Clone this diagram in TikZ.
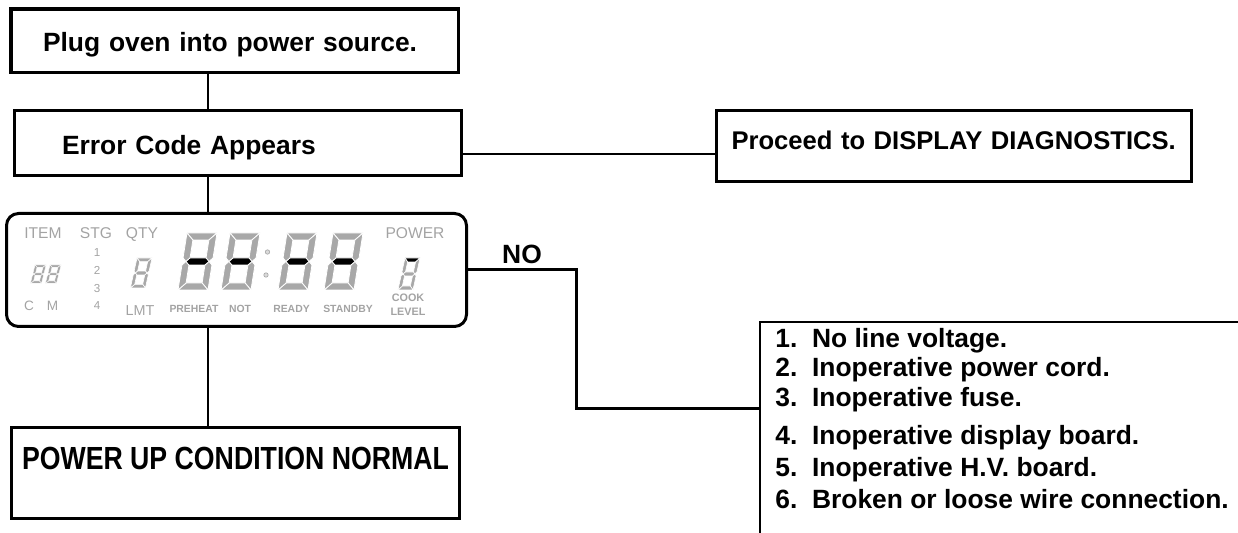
\documentclass[tikz,border=0pt]{standalone}
\usepackage{fontspec}
\setmainfont{Liberation Sans}
\usepackage{graphicx}
\usepackage{tikz}
\definecolor{lcdgray}{HTML}{A3A3A3}
\definecolor{segfill}{HTML}{A8A8A8}

\begin{document}
\begin{tikzpicture}[x=0.5pt, y=-0.5pt,
	box/.style={draw=black, line width=1.6pt, inner ysep=0pt, align=left, font=\fontsize{13.2}{15}\selectfont\bfseries},
	link/.style={line width=1pt},
	noline/.style={line width=1.5pt},
	nolabel/.style={above, inner sep=0pt, yshift=2.6pt, font=\fontsize{13.2}{15}\selectfont\bfseries, text height=9.45pt, text depth=0pt},
	lcd/.style={draw=black, line width=1.5pt, rounded corners=6pt, minimum width=230pt, minimum height=56.5pt, inner sep=0pt},
	lcdlabel/.style={text=lcdgray, inner sep=0pt, font=\fontsize{7.8}{8}\selectfont, text height=5.6pt, text depth=0pt},
	lcdsmall/.style={text=lcdgray, inner sep=0pt, font=\fontsize{5.8}{6}\selectfont, text height=4.2pt, text depth=0pt},
	lcdtag/.style={text=lcdgray, inner sep=0pt, font=\fontsize{5.2}{6}\selectfont\bfseries, text height=3.7pt, text depth=0pt},
	cause/.style={anchor=west, inner sep=0pt, font=\fontsize{13.2}{15}\selectfont\bfseries, text height=9.45pt, text depth=0pt},
	listline/.style={line width=1.3pt},
	seg/.style={fill=segfill, draw=white, line width=0.4pt},
	lit/.style={fill=black, draw=white, line width=0.4pt},
	seg a/.style={seg}, seg b/.style={seg}, seg c/.style={seg}, seg d/.style={seg},
	seg e/.style={seg}, seg f/.style={seg}, seg g/.style={seg},
	lcd digit/.pic={
		\path[seg a] (0,0) -- (30,0) -- (23,7) -- (7,7) -- cycle;
		\path[seg b] (30,0) -- (30,25) -- (26.5,28.5) -- (23,25) -- (23,7) -- cycle;
		\path[seg c] (26.5,28.5) -- (30,32) -- (30,57) -- (23,50) -- (23,32) -- cycle;
		\path[seg d] (0,57) -- (30,57) -- (23,50) -- (7,50) -- cycle;
		\path[seg e] (3.5,28.5) -- (7,32) -- (7,50) -- (0,57) -- (0,32) -- cycle;
		\path[seg f] (0,0) -- (7,7) -- (7,25) -- (3.5,28.5) -- (0,25) -- cycle;
		\path[seg g] (3.5,28.5) -- (7,25) -- (23,25) -- (26.5,28.5) -- (23,32) -- (7,32) -- cycle;
	}]
	\useasboundingbox (0,0) rectangle (1238,533);

	% boxes of the flow
	\node[box, inner xsep=16pt, text width=191.75pt, minimum height=31.7pt, text height=10.45pt, text depth=0pt] (plug) at (234.75,40.7) {Plug oven into power source.};
	\node[box, inner xsep=23.75pt, text width=176pt, minimum height=32.5pt, text height=11.45pt, text depth=0pt] (error) at (238,143) {Error Code Appears};
	\node[box, inner xsep=7.5pt, text width=222.5pt, minimum height=35.5pt, font=\fontsize{12.8}{15}\selectfont\bfseries, text height=9.16pt, text depth=5.8pt] (proceed) at (954,146) {Proceed to DISPLAY DIAGNOSTICS.};
	\node[box, align=center, minimum width=224pt, minimum height=45.5pt, font=\fontsize{16}{18}\selectfont\bfseries, text height=11.46pt, text depth=15pt] (normal) at (235.5,473) {\scalebox{0.834}[1]{POWER UP CONDITION NORMAL}};
	\node[lcd] (display) at (236.5,270) {};

	% display contents
	\node[lcdlabel] (item) at (43,233) {ITEM};
	\node[lcdlabel] (stg) at (96,233) {STG};
	\node[lcdlabel] (qty) at (142,233) {QTY};
	\node[lcdlabel] (power) at (415,233) {POWER};
	\foreach \n/\y in {1/252, 2/270, 3/288, 4/305}
		\node[lcdsmall] (stg\n) at (97,\y) {\n};
	\node[lcdlabel, font=\fontsize{6.8}{8}\selectfont, text height=4.9pt] (cook c) at (29,306) {C};
	\node[lcdlabel, font=\fontsize{6.8}{8}\selectfont, text height=4.9pt] (cook m) at (52.5,306) {M};
	\node[lcdlabel, font=\fontsize{7.2}{8}\selectfont, text height=5.2pt] (lmt) at (140,310) {LMT};
	\node[lcdtag] (preheat) at (194,308.5) {PREHEAT};
	\node[lcdtag] (not) at (240,308.5) {NOT};
	\node[lcdtag] (ready) at (291.5,308.5) {READY};
	\node[lcdtag] (standby) at (348,308.5) {STANDBY};
	\node[lcdtag, font=\fontsize{5.4}{6}\selectfont\bfseries] (cook) at (408,298) {COOK};
	\node[lcdtag, font=\fontsize{5.4}{6}\selectfont\bfseries] (level) at (408,312) {LEVEL};

	\pic[xslant=0.25, xscale=0.37, yscale=0.32, seg/.append style={line width=0.2pt}] at (35,265) {lcd digit};
	\pic[xslant=0.25, xscale=0.37, yscale=0.32, seg/.append style={line width=0.2pt}] at (50,265) {lcd digit};
	\pic[xslant=0.22, xscale=0.5, yscale=0.526, seg/.append style={line width=0.3pt}] at (137,258) {lcd digit};
	\pic[xslant=0.158, seg g/.style=lit] at (187,233) {lcd digit};
	\pic[xslant=0.158, seg g/.style=lit] at (230,233) {lcd digit};
	\pic[xslant=0.158, seg g/.style=lit] at (287,233) {lcd digit};
	\pic[xslant=0.158, seg g/.style=lit] at (333,233) {lcd digit};
	\pic[xslant=0.22, xscale=0.5, yscale=0.56, seg/.append style={line width=0.3pt}, seg a/.style={lit, line width=0.3pt}] at (405,258) {lcd digit};
	\filldraw[fill=lcdgray!40, draw=lcdgray, line width=0.3pt] (267.5,252) circle[radius=1.1pt];
	\filldraw[fill=lcdgray!40, draw=lcdgray, line width=0.3pt] (266,275) circle[radius=1.1pt];

	% list of causes
	\draw[listline] (1238,322) -- (760,322) -- (760,533);
	\node[cause] (cause1) at (775,338) {1.~~No line voltage.};
	\node[cause] (cause2) at (775,367) {2.~~Inoperative power cord.};
	\node[cause] (cause3) at (775,397) {3.~~Inoperative fuse.};
	\node[cause] (cause4) at (775,435) {4.~~Inoperative display board.};
	\node[cause] (cause5) at (775,467) {5.~~Inoperative H.V. board.};
	\node[cause] (cause6) at (775,499) {6.~~Broken or loose wire connection.};

	% connectors
	\coordinate (spine) at (208,0);
	\coordinate (nobend) at (576,270);
	\coordinate (causes) at (760,409);
	\draw[link] (spine |- plug.south) -- (spine |- error.north);
	\draw[link] (spine |- error.south) -- (spine |- display.north);
	\draw[link] (spine |- display.south) -- (spine |- normal.north);
	\draw[link] ([yshift=-5.5pt]error.east) -- ([yshift=-5.5pt]error.east -| proceed.west);
	\draw[noline] (display.east) -- node[nolabel] (no) {NO} (nobend) |- (causes);
\end{tikzpicture}
\end{document}
